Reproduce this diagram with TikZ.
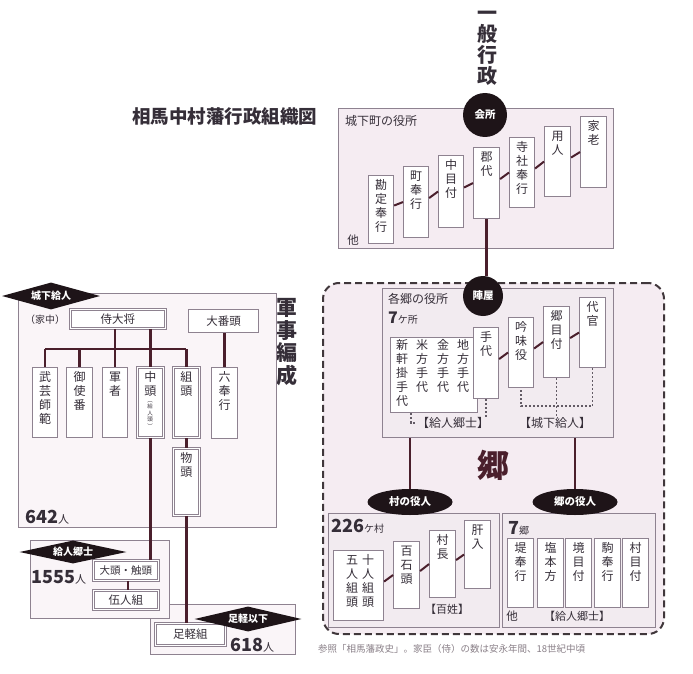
\documentclass[tikz,border=0pt]{standalone}
\usepackage{fontspec}
\setmainfont{Noto Sans CJK JP}
\usetikzlibrary{shapes.geometric}
\definecolor{ln}{HTML}{4A1F2C}
\definecolor{bd}{HTML}{8E8290}
\definecolor{tx}{HTML}{352E38}
\definecolor{pka}{HTML}{F5ECF2}
\definecolor{pkb}{HTML}{F2EBF0}
\definecolor{pkc}{HTML}{FAF5F8}
\definecolor{dk}{HTML}{1E1418}
\definecolor{fn}{HTML}{8A8088}
\newcommand\vs{\rule{0pt}{10pt}}
\newcommand\mybox[7]{%
  \node[#2, anchor=north west, minimum width=#5pt, minimum height=#6pt] (#1) at (#3,#4) {};
  \node[vt, anchor=north] at ([yshift=-4pt]#1.north) {\vs #7};}
\tikzset{
  ctr/.style={draw=bd, line width=1pt, inner sep=0pt},
  vbx/.style={draw=bd, line width=1.1pt, fill=white, inner sep=0pt},
  dbx/.style={draw=bd, line width=0.8pt, double=white, double distance=1.6pt, fill=white, inner sep=0pt},
  conn/.style={draw=ln, line width=2.2pt},
  sconn/.style={draw=ln, line width=2pt},
  dotl/.style={draw=bd!70!black, line width=1.3pt, dash pattern=on 2pt off 2pt},
  vt/.style={font=\fontsize{12}{14}\selectfont, text=tx, align=center, inner sep=0pt},
  ht/.style={font=\fontsize{11.5}{14}\selectfont, text=tx, inner sep=0pt},
  blk/.style={fill=dk, text=white, font=\bfseries\fontsize{10.5}{12}\selectfont, inner sep=0pt},
  dmd/.style={diamond, aspect=3.6, fill=dk, text=white, font=\bfseries\fontsize{10}{12}\selectfont, inner sep=0pt},
  num/.style={anchor=west, inner sep=0pt, text=tx},
}
\begin{document}
\begin{tikzpicture}[x=1pt,y=-1pt]
\useasboundingbox (0,0) rectangle (693,674);
\fill[white] (0,0) rectangle (693,674);

% ---------- titles ----------
\node[font=\bfseries\fontsize{20}{21}\selectfont, text=tx, align=center, inner sep=0pt, anchor=north] (ippan) at (487,3) {\rule{0pt}{17.6pt}一\\般\\行\\政};
\node[font=\bfseries\fontsize{18.5}{20}\selectfont, text=tx, anchor=west, inner sep=0pt] (title) at (132,117) {相馬中村藩行政組織図};

% ---------- top: castle town offices ----------
\node[ctr, fill=pka, anchor=north west, minimum width=275pt, minimum height=140pt] (topbox) at (338,108) {};
\node[ht, font=\fontsize{12}{14}\selectfont, anchor=west] (toplbl) at (345,121) {城下町の役所};
\mybox{kanjo}{vbx}{368}{175}{25}{68}{勘\\定\\奉\\行}
\mybox{machi}{vbx}{403}{166}{25}{71}{町\\奉\\行}
\mybox{nakame}{vbx}{438}{155}{25}{72}{中\\目\\付}
\mybox{gundai}{vbx}{473}{147}{26}{71}{郡\\代}
\mybox{jisha}{vbx}{509}{137}{25}{70}{寺\\社\\奉\\行}
\mybox{yonin}{vbx}{544}{126}{26}{70}{用\\人}
\mybox{karo}{vbx}{580}{116}{26}{71}{家\\老}
\node[ht] (hoka1) at (353,240) {他};
\foreach \a/\b in {kanjo/machi, machi/nakame, nakame/gundai, gundai/jisha, jisha/yonin, yonin/karo}
  \draw[sconn] ([yshift=4pt]\a.east) -- (\b.west);

% ---------- gou area ----------
\node[draw=dk!85, line width=2pt, dash pattern=on 7pt off 4pt, rounded corners=16pt, fill=pka, anchor=north west, minimum width=341pt, minimum height=351pt, inner sep=0pt] (goarea) at (322,282) {};
\node[ctr, fill=pkb, anchor=north west, minimum width=231pt, minimum height=149pt] (yakusho) at (382,288) {};
\node[ht, font=\fontsize{12}{14}\selectfont, anchor=west] (yklbl) at (388,299) {各郷の役所};
\node[num] (seven) at (388,318) {{\bfseries\fontsize{16}{16}\selectfont 7}{\fontsize{10}{12}\selectfont ケ所}};
\node[vbx, anchor=north west, minimum width=87pt, minimum height=75pt] (tedai4) at (390,337) {};
\node[vt, anchor=north] (t1) at (463,339) {\vs 地\\方\\手\\代};
\node[vt, anchor=north] (t2) at (443,339) {\vs 金\\方\\手\\代};
\node[vt, anchor=north] (t3) at (422,339) {\vs 米\\方\\手\\代};
\node[vt, anchor=north] (t4) at (402,339) {\vs 新\\軒\\掛\\手\\代};
\mybox{tedai}{vbx}{473}{327}{25}{71}{手\\代}
\mybox{ginmi}{vbx}{508}{317}{25}{70}{吟\\味\\役}
\mybox{gome}{vbx}{543}{306}{26}{71}{郷\\目\\付}
\mybox{daikan}{vbx}{579}{297}{26}{70}{代\\官}
\foreach \a/\b in {tedai/ginmi, ginmi/gome, gome/daikan}
  \draw[sconn] ([yshift=4pt]\a.east) -- (\b.west);
\node[ht, font=\fontsize{12}{14}\selectfont] (kgs1) at (453,423) {【給人郷士】};
\node[ht, font=\fontsize{12}{14}\selectfont] (jkk1) at (555,423) {【城下給人】};
\draw[dotl] (daikan.south) -- ++(0,38) -| (ginmi.south);
\draw[dotl] (gome.south) -- (gome.south |- jkk1.north);
\draw[dotl] (tedai.south) -- (tedai.south |- kgs1.north);
\draw[dotl] ([xshift=-23pt]tedai4.south) |- (kgs1.west);

\node[font=\bfseries\fontsize{32}{32}\selectfont, text=ln, inner sep=0pt] (gou) at (493,465) {郷};

% lower boxes
\node[ctr, fill=pkb, anchor=north west, minimum width=171pt, minimum height=114pt] (murabox) at (328,513) {};
\node[ctr, fill=pkb, anchor=north west, minimum width=153pt, minimum height=114pt] (goubox) at (502,513) {};
\node[num] (n226) at (331,526) {{\bfseries\fontsize{18}{18}\selectfont 226}{\fontsize{10}{12}\selectfont ケ村}};
\node[vbx, anchor=north west, minimum width=50pt, minimum height=70pt] (gonin) at (333,550) {};
\node[vt, anchor=north] (g1) at (368,554) {\vs 十\\人\\組\\頭};
\node[vt, anchor=north] (g2) at (352,554) {\vs 五\\人\\組\\頭};
\mybox{hyakkoku}{vbx}{393}{541}{26}{67}{百\\石\\頭}
\mybox{murao}{vbx}{429}{530}{26}{67}{村\\長}
\mybox{kimoiri}{vbx}{464}{520}{26}{68}{肝\\入}
\foreach \a/\b in {gonin/hyakkoku, hyakkoku/murao, murao/kimoiri}
  \draw[sconn] ([yshift=4pt]\a.east) -- (\b.west);
\node[ht, font=\fontsize{11}{13}\selectfont] (hyaku) at (447,609) {【百姓】};

\node[num] (n7) at (508,528) {{\bfseries\fontsize{18}{18}\selectfont 7}{\fontsize{10}{12}\selectfont 郷}};
\mybox{tsutsumi}{vbx}{507}{538}{26}{69}{堤\\奉\\行}
\mybox{shio}{vbx}{537}{538}{26}{69}{塩\\本\\方}
\mybox{sakai}{vbx}{565}{538}{26}{69}{境\\目\\付}
\mybox{koma}{vbx}{594}{538}{26}{69}{駒\\奉\\行}
\mybox{murame}{vbx}{622}{538}{26}{69}{村\\目\\付}
\node[ht] (hoka2) at (512,616) {他};
\node[ht, font=\fontsize{11}{13}\selectfont] (kgs2) at (577,616) {【給人郷士】};

% connectors in gou area
\draw[conn] (gundai.south) -- (gundai.south |- 0,276);
\node[circle, blk, minimum size=44pt] (kaisho) at (485,115) {会所};
\node[circle, blk, minimum size=40pt] (jinya) at (483,296) {陣屋};
\node[ellipse, blk, minimum width=85pt, minimum height=26pt] (muraya) at (410,502) {村の役人};
\node[ellipse, blk, minimum width=85pt, minimum height=26pt] (gouya) at (575,502) {郷の役人};
\draw[conn] (yakusho.south -| muraya.north) -- (muraya.north);
\draw[conn] (yakusho.south -| gouya.north) -- (gouya.north);

% ---------- left: military ----------
\node[font=\bfseries\fontsize{21}{22.5}\selectfont, text=tx, align=center, inner sep=0pt, anchor=north] (gunji) at (287,297) {\rule{0pt}{18.5pt}軍\\事\\編\\成};
\node[ctr, fill=pkc, anchor=north west, minimum width=258pt, minimum height=234pt] (leftbox) at (18,293) {};
\node[ht, font=\fontsize{10}{12}\selectfont] (kachu) at (45,320) {（家中）};
\node[dbx, anchor=north west, minimum width=95pt, minimum height=19pt] (samurai) at (70,309) {};
\node[ht] at (samurai) {侍大将};
\node[vbx, anchor=north west, minimum width=70pt, minimum height=23pt] (obanto) at (188,309) {};
\node[ht] at (obanto) {大番頭};
\mybox{bugei}{vbx}{32}{367}{25}{70}{武\\芸\\師\\範}
\mybox{otsukai}{vbx}{66}{367}{26}{70}{御\\使\\番}
\mybox{gunsha}{vbx}{102}{367}{25}{70}{軍\\者}
\mybox{nakag}{dbx}{137}{367}{26}{70}{中\\頭}
\node[font=\fontsize{5.5}{6.5}\selectfont, text=tx, align=center, inner sep=0pt, anchor=north] (kyuto) at (150,401) {︵\\給\\人\\頭\\︶};
\mybox{kumig}{dbx}{173}{367}{26}{70}{組\\頭}
\mybox{roku}{vbx}{211}{367}{26}{71}{六\\奉\\行}
\mybox{monog}{dbx}{173}{448}{26}{67}{物\\頭}
\node[num] (n642) at (25,517) {{\bfseries\fontsize{18}{18}\selectfont 642}{\fontsize{11}{12}\selectfont 人}};

\node[ctr, fill=pkc, anchor=north west, minimum width=145pt, minimum height=50pt] (ashibox) at (150,604) {};
\node[ctr, fill=pkc, anchor=north west, minimum width=139pt, minimum height=78pt] (kyubox) at (30,540) {};
\node[num] (n1555) at (31,577) {{\bfseries\fontsize{18}{18}\selectfont 1555}{\fontsize{11}{12}\selectfont 人}};
\node[dbx, anchor=north west, minimum width=65pt, minimum height=20pt] (ohg) at (93,560) {};
\node[ht, font=\fontsize{10.5}{12}\selectfont] at (ohg) {大頭・触頭};
\node[dbx, anchor=north west, minimum width=65pt, minimum height=19pt] (gonin2) at (93,590) {};
\node[ht] at (gonin2) {伍人組};
\node[dbx, anchor=north west, minimum width=70pt, minimum height=22pt] (ashig) at (155,623) {};
\node[ht] at (ashig) {足軽組};
\node[num] (n618) at (230,645) {{\bfseries\fontsize{18}{18}\selectfont 618}{\fontsize{11}{12}\selectfont 人}};

% military connectors
\coordinate (bus) at (0,349);
\draw[conn] (bugei.north |- bus) -- (kumig.north |- bus);
\draw[conn] (gunsha.north |- samurai.south) -- (gunsha.north);
\foreach \c in {bugei, otsukai, kumig}
  \draw[conn] (\c.north |- bus) -- (\c.north);
\draw[conn] (nakag.north |- samurai.south) -- (nakag.north);
\draw[conn] (roku.north |- obanto.south) -- (roku.north);
\draw[conn] (kumig.south) -- (monog.north);
\draw[conn] (monog.south) -- (monog.south |- ashig.north);
\draw[conn] (nakag.south) -- (nakag.south |- ohg.north);
\draw[conn] ([xshift=2pt]ohg.south) -- ([xshift=2pt]ohg.south |- gonin2.north);

% black labels
\node[dmd, minimum width=98pt, minimum height=27pt] (jokad) at (51,296) {城下給人};
\node[dmd, minimum width=107pt, minimum height=23pt] (kyud) at (73,552) {給人郷士};
\node[dmd, minimum width=107pt, minimum height=25pt] (ashid) at (248,619) {足軽以下};

% footnote
\node[anchor=west, inner sep=0pt, text=fn, font=\fontsize{9.5}{11}\selectfont] (note) at (318,649) {参照「相馬藩政史」。家臣（侍）の数は安永年間、18世紀中頃};
\end{tikzpicture}
\end{document}
